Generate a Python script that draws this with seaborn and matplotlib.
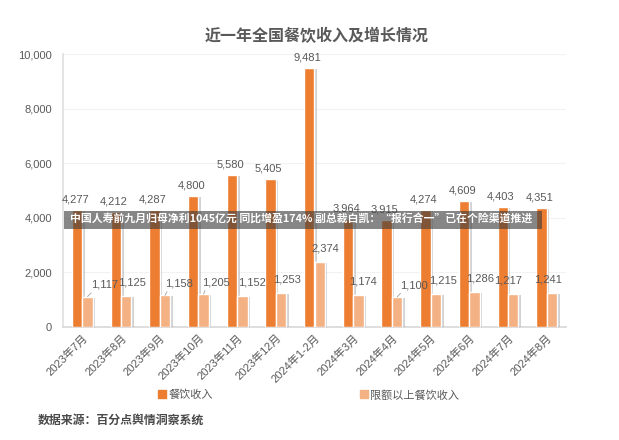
import numpy as np
import pandas as pd
import matplotlib
matplotlib.use("Agg")
import matplotlib.pyplot as plt
import matplotlib.patheffects as pe
from matplotlib.patches import Rectangle
from matplotlib.lines import Line2D
from matplotlib.ticker import FuncFormatter, FixedLocator
import seaborn as sns

# ---- data ----
months = ["2023年7月", "2023年8月", "2023年9月", "2023年10月", "2023年11月", "2023年12月",
          "2024年1-2月", "2024年3月", "2024年4月", "2024年5月", "2024年6月", "2024年7月", "2024年8月"]
catering = [4277, 4212, 4287, 4800, 5580, 5405, 9481, 3964, 3915, 4274, 4609, 4403, 4351]
catering_above = [1117, 1125, 1158, 1205, 1152, 1253, 2374, 1174, 1100, 1215, 1286, 1217, 1241]
series_names = ["餐饮收入", "限额以上餐饮收入"]
title = "近一年全国餐饮收入及增长情况"
source = "数据来源：百分点舆情洞察系统"
banner = "中国人寿前九月归母净利1045亿元 同比增盈174% 副总裁白凯：“报行合一”已在个险渠道推进"

df = pd.DataFrame({
    "month": months * 2,
    "value": catering + catering_above,
    "series": [series_names[0]] * len(months) + [series_names[1]] * len(months),
})

sns.set_theme(style="white")
plt.rcParams["font.family"] = ["Liberation Sans", "Noto Sans CJK SC", "DejaVu Sans"]

GRAY = "#595959"
C1 = "#ED7D31"
C2 = "#F4B183"

fig = plt.figure(figsize=(6.19, 4.40), dpi=100)
ax = fig.add_axes([63 / 619, 1 - 327 / 440, (566 - 63) / 619, (327 - 54) / 440])

sns.barplot(data=df, x="month", y="value", hue="series", order=months,
            hue_order=series_names, palette=[C1, C2], width=0.54, dodge=True,
            saturation=1, legend=False, ax=ax, zorder=3)

ax.set_ylim(0, 10000)
ax.set_xlim(-0.5, len(months) - 0.5)
ax.set_yticks(np.arange(0, 10001, 2000))
ax.yaxis.set_major_formatter(FuncFormatter(lambda v, p: f"{int(v):,}"))
ax.tick_params(axis="y", labelsize=8, colors=GRAY, length=0, pad=8)
ax.set_xticks(range(len(months)))
ax.set_xticklabels(months, rotation=45, ha="right", rotation_mode="anchor",
                   fontsize=8, color=GRAY)
ax.tick_params(axis="x", length=0, pad=4)
ax.xaxis.set_minor_locator(FixedLocator(np.arange(-0.5, len(months), 1.0)))
ax.tick_params(axis="x", which="minor", length=4, color="#d0d0d0", width=0.8)
ax.set_xlabel("")
ax.set_ylabel("")
ax.grid(axis="y", color="#f2f2f2", linewidth=0.8, zorder=0)
for s in ["top", "right"]:
    ax.spines[s].set_visible(False)
ax.spines["left"].set_color("#e0e0e0")
ax.spines["bottom"].set_color("#d9d9d9")

# shadows on bars
shadow = [pe.SimplePatchShadow(offset=(1.8, -0.8), shadow_rgbFace="#808080", alpha=0.35),
          pe.Normal()]
for cont in ax.containers:
    for bar in cont:
        bar.set_path_effects(shadow)

# value labels
bars1 = ax.containers[0]
bars2 = ax.containers[1]
for bar, v in zip(bars1, catering):
    ax.annotate(f"{v:,}", (bar.get_x() + bar.get_width() / 2 - 0.05, bar.get_height()),
                xytext=(0, 4), textcoords="offset points", ha="center", va="bottom",
                fontsize=8, color=GRAY, zorder=5)

dx_pts = [7, 4, 5, 4, 7, 4, 4, 3, 7, 5, 4, -4, -3]
leader = [True, False, True, True, False, False, False, False, True, False, False, False, False]
for bar, v, dx, ld in zip(bars2, catering_above, dx_pts, leader):
    xy = (bar.get_x() + bar.get_width() / 2, bar.get_height())
    if ld:
        ax.annotate(f"{v:,}", xy, xytext=(dx + 5, 5), textcoords="offset points",
                    ha="center", va="bottom", fontsize=8, color=GRAY, zorder=5,
                    arrowprops=dict(arrowstyle="-", color="#a0a0a0", lw=0.6,
                                    shrinkA=0, shrinkB=0,
                                    relpos=(0.15, 0.05)))
    else:
        ax.annotate(f"{v:,}", xy, xytext=(dx, 6), textcoords="offset points",
                    ha="center", va="bottom", fontsize=8, color=GRAY, zorder=5)

# title
fig.text(317 / 619, 1 - 36 / 440, title, ha="center", va="center",
         fontsize=11.5, fontweight="bold", color=GRAY)

# legend
handles = [Line2D([0], [0], marker="s", linestyle="", markersize=6, color=C1),
           Line2D([0], [0], marker="s", linestyle="", markersize=6, color=C2)]
fig.legend(handles, series_names, loc="center", bbox_to_anchor=(308 / 619, 1 - 395 / 440),
           ncol=2, frameon=False, fontsize=8, labelcolor=GRAY, handletextpad=0.1,
           columnspacing=13, handlelength=1.0)

# source
fig.text(38 / 619, 1 - 421 / 440, source, ha="left", va="center",
         fontsize=8.6, fontweight="bold", color="#4a4a4a")

# overlay banner
fig.patches.append(Rectangle((64 / 619, 1 - 229 / 440), (542 - 64) / 619, 18 / 440,
                             transform=fig.transFigure, facecolor="#3c3c3c", alpha=0.62,
                             edgecolor="none", zorder=10))
fig.text(70 / 619, 1 - 219.5 / 440, banner, ha="left", va="center", fontsize=7.8,
         fontweight="bold", color="white", zorder=11,
         family=["Noto Sans CJK SC", "DejaVu Sans"])

fig.savefig("out.png", dpi=100, facecolor="white")
